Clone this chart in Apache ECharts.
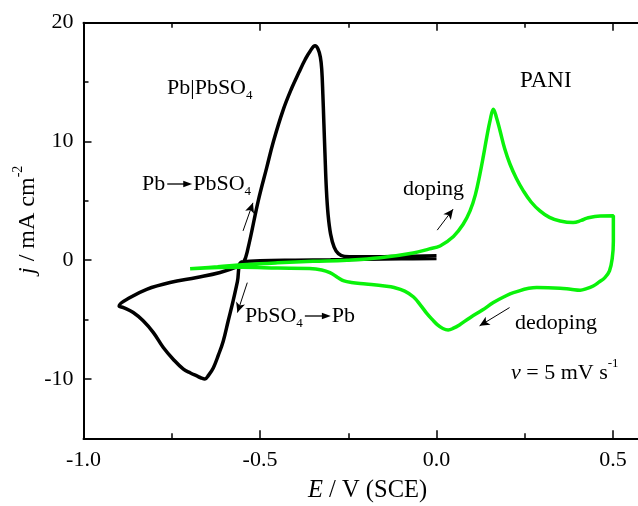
<!DOCTYPE html>
<html>
<head>
<meta charset="utf-8">
<script src="https://cdn.jsdelivr.net/npm/echarts@6/dist/echarts.min.js"></script>
<style>
  html, body { margin: 0; padding: 0; background: #fff; }
  #chart { width: 638px; height: 506px; }
</style>
</head>
<body>
<div id="chart"></div>
<script>
// Cyclic voltammograms: Pb|PbSO4 electrode and PANI film, v = 5 mV/s
// Potential E / V (SCE) and current density j / mA cm^-2, in sweep order.
const pbE = [0.0, -0.1, -0.2, -0.3, -0.4, -0.5, -0.552, -0.564, -0.576, -0.590, -0.604, -0.618, -0.632, -0.646, -0.656, -0.668, -0.679, -0.697, -0.717, -0.746, -0.774, -0.802, -0.831, -0.859, -0.887, -0.899, -0.868, -0.821, -0.755, -0.679, -0.613, -0.566, -0.547, -0.534, -0.505, -0.481, -0.462, -0.435, -0.41, -0.39, -0.372, -0.358, -0.344, -0.336, -0.329, -0.325, -0.322, -0.319, -0.316, -0.312, -0.307, -0.3, -0.29, -0.278, -0.26, -0.2, -0.1, 0.0];
const pbJ = [0.15, 0.12, 0.08, 0.03, 0.0, -0.05, -0.15, -1.8, -3.4, -5.1, -6.8, -8.0, -9.05, -9.7, -10.0, -9.9, -9.75, -9.5, -9.18, -8.34, -7.36, -6.10, -5.11, -4.41, -3.99, -3.85, -3.15, -2.45, -1.88, -1.46, -1.04, -0.57, -0.2, 1.0, 5.0, 7.8, 10.0, 12.6, 14.5, 15.8, 16.9, 17.6, 18.05, 17.8, 17.1, 16.0, 14.0, 11.5, 9.0, 6.0, 3.8, 2.2, 1.1, 0.55, 0.32, 0.28, 0.32, 0.38];

const paniE = [-0.698, -0.62, -0.538, -0.45, -0.35, -0.254, -0.16, -0.066, -0.02, 0.01, 0.048, 0.075, 0.095, 0.11, 0.123, 0.133, 0.142, 0.152, 0.161, 0.17, 0.18, 0.193, 0.208, 0.226, 0.246, 0.268, 0.293, 0.32, 0.35, 0.387, 0.41, 0.426, 0.464, 0.501, 0.501, 0.498, 0.49, 0.477, 0.46, 0.444, 0.425, 0.407, 0.38, 0.35, 0.284, 0.218, 0.19, 0.161, 0.13, 0.095, 0.065, 0.048, 0.033, 0.018, 0.003, -0.012, -0.027, -0.045, -0.065, -0.09, -0.12, -0.147, -0.2, -0.241, -0.262, -0.28, -0.302, -0.325, -0.36, -0.45, -0.55, -0.698];
const paniJ = [-0.72, -0.55, -0.36, -0.22, -0.1, 0.0, 0.2, 0.6, 0.95, 1.2, 2.0, 3.0, 4.15, 5.5, 7.25, 8.8, 10.3, 11.8, 12.72, 12.0, 10.9, 9.4, 8.1, 6.9, 5.84, 4.9, 4.15, 3.6, 3.3, 3.17, 3.35, 3.54, 3.73, 3.75, 1.6, 0.2, -0.9, -1.47, -1.85, -2.17, -2.4, -2.53, -2.45, -2.36, -2.31, -2.73, -3.1, -3.57, -4.2, -4.84, -5.45, -5.73, -5.87, -5.75, -5.45, -5.0, -4.5, -3.8, -3.1, -2.6, -2.3, -2.17, -2.0, -1.88, -1.75, -1.45, -1.05, -0.82, -0.7, -0.66, -0.6, -0.72];

// Axis ticks
const xMajor = [-1.0, -0.5, 0.0, 0.5];
const xMinor = [-0.75, -0.25, 0.25];
const yMajor = [-10, 0, 10, 20];
const yMinor = [-15, -5, 5, 15];

// Sweep-direction arrows [E0, j0, E1, j1] (tail -> head)
const sweepArrows = [
  [-0.548, 2.47, -0.520, 4.83],
  [-0.536, -1.89, -0.564, -4.41],
  [0.002, 2.53, 0.047, 4.30],
  [0.207, -3.99, 0.122, -5.53]
];

const SERIF = '"Liberation Serif", "Times New Roman", Times, serif';
// The frame runs past the right edge of the canvas; the visible part ends near 0.57 V.
const GRID = { left: 83.5, top: 22.7, right: 0, height: 415.6 };
const X_RANGE = { min: -1.0, max: 0.5708 };
const Y_RANGE = { min: -15, max: 20 };

const measureCtx = document.createElement('canvas').getContext('2d');
function fontOf(size, italic) {
  return (italic ? 'italic ' : '') + size + 'px ' + SERIF;
}
// Lays out a line of text pieces (with sub/superscripts and inline arrows)
function textRun(x, y, parts, rotation) {
  let cx = 0;
  const kids = [];
  for (const p of parts) {
    if (p.arrow) {
      const L = p.arrow, y0 = p.dy || 0;
      kids.push({ type: 'line', shape: { x1: cx + 2, y1: y0, x2: cx + L - 8, y2: y0 },
                  style: { stroke: '#000', lineWidth: 1.3 } });
      kids.push({ type: 'polygon', shape: { points: [[cx + L - 10, y0 - 3.2], [cx + L - 1, y0], [cx + L - 10, y0 + 3.2]] },
                  style: { fill: '#000' } });
      cx += L;
      continue;
    }
    const f = fontOf(p.size, p.italic);
    measureCtx.font = f;
    kids.push({ type: 'text', x: cx, y: p.dy || 0,
                style: { text: p.t, font: f, fill: '#000', align: 'left', verticalAlign: 'middle',
                         textAlign: 'left', textVerticalAlign: 'middle' } });
    cx += measureCtx.measureText(p.t).width + (p.gap || 0);
  }
  return { type: 'group', x: x, y: y, rotation: rotation || 0, silent: true, children: kids };
}

function tickAxis(dim, position, gridIndex, values, len, withLine, labels) {
  const range = dim === 'x' ? X_RANGE : Y_RANGE;
  return {
    type: 'value', gridIndex: gridIndex, position: position,
    min: range.min, max: range.max, interval: dim === 'x' ? 0.25 : 5,
    axisLine: { show: withLine, onZero: false, lineStyle: { color: '#000', width: 2 } },
    axisTick: { show: true, inside: true, length: len, customValues: values,
                lineStyle: { color: '#000', width: 1.5 } },
    axisLabel: labels ? {
      show: true, customValues: values, color: '#000', fontFamily: SERIF, fontSize: 22,
      margin: dim === 'x' ? 11 : 10,
      formatter: dim === 'x' ? (v) => Number(v).toFixed(1) : (v) => String(v)
    } : { show: false },
    splitLine: { show: false }
  };
}

const chart = echarts.init(document.getElementById('chart'), null, { renderer: 'canvas' });

const option = {
  animation: false,
  backgroundColor: '#fff',
  grid: [
    Object.assign({ containLabel: false }, GRID),
    Object.assign({ containLabel: false }, GRID)
  ],
  xAxis: [
    tickAxis('x', 'bottom', 0, xMajor, 8, true, true),
    tickAxis('x', 'top', 0, xMajor, 8, true, false),
    tickAxis('x', 'bottom', 1, xMinor, 5, false, false),
    tickAxis('x', 'top', 1, xMinor, 5, false, false)
  ],
  yAxis: [
    tickAxis('y', 'left', 0, yMajor, 8, true, true),
    tickAxis('y', 'left', 1, yMinor, 5, false, false)
  ],
  series: [
    {
      name: 'Pb|PbSO4', type: 'line', xAxisIndex: 0, yAxisIndex: 0,
      data: pbE.map((e, i) => [e, pbJ[i]]),
      showSymbol: false, smooth: 0.4, clip: true,
      lineStyle: { color: '#000', width: 3.5 },
      markLine: {
        silent: true, symbol: ['none', 'arrow'], symbolSize: [7, 10],
        lineStyle: { color: '#000', width: 1, type: 'solid' },
        label: { show: false }, emphasis: { disabled: true },
        data: sweepArrows.map(a => [{ coord: [a[0], a[1]] }, { coord: [a[2], a[3]] }])
      }
    },
    {
      name: 'PANI', type: 'line', xAxisIndex: 0, yAxisIndex: 0,
      data: paniE.map((e, i) => [e, paniJ[i]]),
      showSymbol: false, smooth: 0.4, clip: true,
      lineStyle: { color: '#0af20a', width: 3.5 }
    }
  ],
  graphic: [
    textRun(167, 88, [{ t: 'Pb|PbSO', size: 22 }, { t: '4', size: 13, dy: 8 }]),
    textRun(520, 81, [{ t: 'PANI', size: 23 }]),
    textRun(142, 184, [{ t: 'Pb', size: 22 }, { arrow: 28 }, { t: 'PbSO', size: 22 }, { t: '4', size: 13, dy: 8 }]),
    textRun(403, 189, [{ t: 'doping', size: 22 }]),
    textRun(245, 316, [{ t: 'PbSO', size: 22 }, { t: '4', size: 13, dy: 8 }, { arrow: 29 }, { t: 'Pb', size: 22 }]),
    textRun(515, 323, [{ t: 'dedoping', size: 22 }]),
    textRun(511, 373, [{ t: 'v', size: 22, italic: true }, { t: ' = 5 mV s', size: 22 }, { t: '-1', size: 13, dy: -9 }]),
    textRun(28, 274, [{ t: 'j', size: 24, italic: true }, { t: ' / mA cm', size: 24 }, { t: '-2', size: 14, dy: -10 }], Math.PI / 2),
    textRun(308, 491, [{ t: 'E', size: 24.5, italic: true }, { t: ' / V (SCE)', size: 24.5 }])
  ]
};

chart.setOption(option);
</script>
</body>
</html>
